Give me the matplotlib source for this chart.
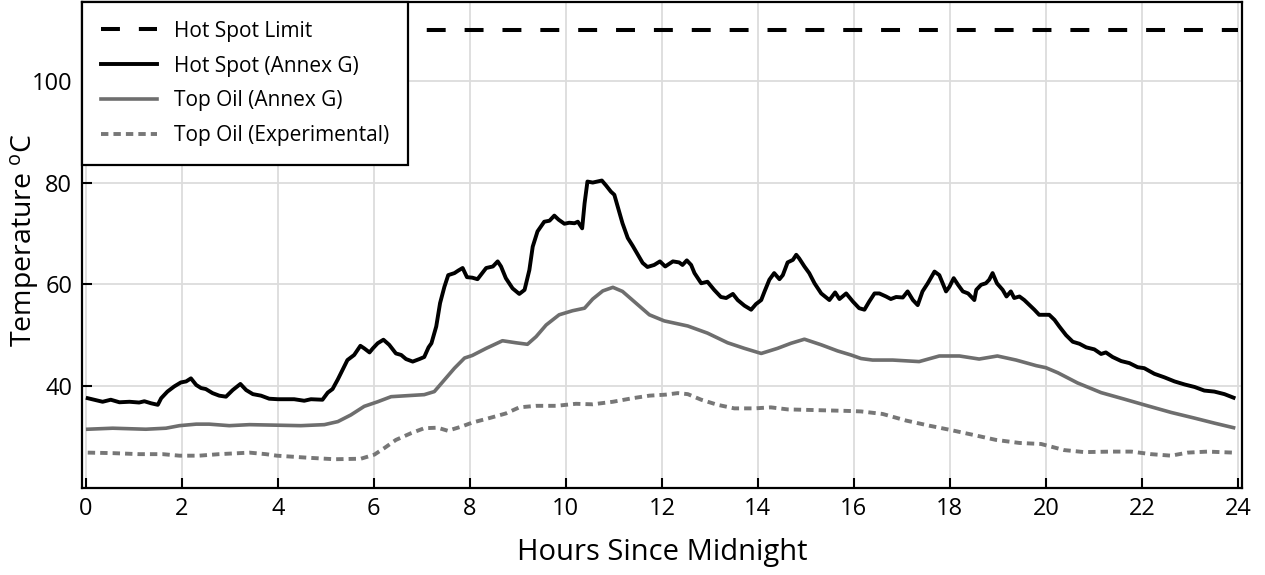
import matplotlib
matplotlib.use("Agg")
import matplotlib.pyplot as plt

plt.rcParams['font.family'] = ['Open Sans', 'DejaVu Sans']
plt.rcParams['mathtext.default'] = 'regular'

# Transformer temperatures over one day (hours since midnight, deg C)
hot_spot_limit_hours = [0.0, 24.0]
hot_spot_limit_temp = [110, 110]

hot_spot_hours = [
    0.04, 0.35, 0.52, 0.70, 0.91, 1.11, 1.22, 1.36, 1.50, 1.57, 1.70, 1.84,
    1.98, 2.09, 2.19, 2.30, 2.40, 2.50, 2.64, 2.78, 2.92, 3.06, 3.22, 3.34,
    3.48, 3.65, 3.82, 4.00, 4.14, 4.34, 4.55, 4.69, 4.93, 5.04, 5.14, 5.25,
    5.35, 5.45, 5.59, 5.72, 5.80, 5.91, 5.98, 6.08, 6.20, 6.32, 6.46, 6.57,
    6.67, 6.81, 6.95, 7.05, 7.14, 7.20, 7.30, 7.38, 7.47, 7.55, 7.68, 7.76,
    7.85, 7.94, 8.05, 8.16, 8.34, 8.48, 8.58, 8.65, 8.75, 8.89, 9.03, 9.14,
    9.24, 9.31, 9.41, 9.55, 9.66, 9.76, 9.85, 9.97, 10.07, 10.18, 10.25,
    10.34, 10.39, 10.45, 10.56, 10.66, 10.75, 10.84, 10.94, 11.01, 11.08,
    11.18, 11.29, 11.39, 11.50, 11.60, 11.70, 11.84, 11.96, 12.07, 12.23,
    12.36, 12.43, 12.52, 12.61, 12.68, 12.82, 12.95, 13.09, 13.23, 13.34,
    13.48, 13.58, 13.72, 13.86, 13.96, 14.07, 14.14, 14.24, 14.34, 14.45,
    14.52, 14.62, 14.73, 14.80, 14.86, 14.97, 15.07, 15.18, 15.32, 15.49,
    15.61, 15.70, 15.84, 15.98, 16.11, 16.22, 16.32, 16.43, 16.53, 16.67,
    16.77, 16.88, 17.02, 17.12, 17.23, 17.33, 17.43, 17.54, 17.68, 17.78,
    17.92, 17.99, 18.08, 18.17, 18.27, 18.38, 18.51, 18.55, 18.65, 18.75,
    18.82, 18.89, 18.98, 19.10, 19.18, 19.27, 19.34, 19.45, 19.55, 19.66,
    19.76, 19.86, 19.97, 20.07, 20.18, 20.28, 20.42, 20.56, 20.70, 20.84,
    21.01, 21.15, 21.25, 21.39, 21.57, 21.74, 21.91, 22.05, 22.26, 22.47,
    22.68, 22.89, 23.10, 23.30, 23.51, 23.72, 23.91,
]
hot_spot_temp = [
    37.6, 36.9, 37.3, 36.8, 36.9, 36.75, 37.0, 36.6, 36.3, 37.6, 38.9, 39.9,
    40.7, 40.9, 41.5, 40.2, 39.6, 39.4, 38.6, 38.1, 37.9, 39.2, 40.4, 39.2,
    38.4, 38.1, 37.5, 37.4, 37.4, 37.4, 37.1, 37.4, 37.3, 38.7, 39.4, 41.3,
    43.2, 45.1, 46.1, 47.9, 47.4, 46.6, 47.4, 48.4, 49.1, 48.1, 46.4, 46.1,
    45.3, 44.8, 45.3, 45.7, 47.6, 48.4, 51.7, 56.3, 59.5, 61.8, 62.2, 62.7,
    63.2, 61.4, 61.3, 61.0, 63.2, 63.5, 64.5, 63.5, 61.2, 59.2, 58.1, 58.9,
    62.8, 67.4, 70.4, 72.3, 72.5, 73.5, 72.7, 71.9, 72.1, 72.0, 72.3,
    71.0, 75.9, 80.2, 80.0, 80.2, 80.4, 79.4, 78.2, 77.6, 75.3,
    72.0, 69.1, 67.6, 65.8, 64.2, 63.4, 63.8, 64.5, 63.5, 64.5,
    64.3, 63.8, 64.7, 63.8, 62.2, 60.2, 60.5, 58.9, 57.5, 57.3,
    58.1, 56.9, 55.8, 55.0, 56.1, 56.9, 58.6, 60.9, 62.2, 61.0,
    61.8, 64.3, 64.8, 65.8, 65.1, 63.5, 62.2, 60.2, 58.2, 56.9,
    58.4, 57.1, 58.2, 56.6, 55.3, 55.0, 56.6, 58.2, 58.2, 57.6,
    57.1, 57.5, 57.4, 58.6, 56.9, 55.9, 58.6, 60.2, 62.5, 61.8,
    58.6, 59.5, 61.2, 59.9, 58.6, 58.2, 56.9, 58.9, 59.9, 60.2,
    60.9, 62.2, 60.2, 58.9, 57.6, 58.6, 57.3, 57.6, 56.9, 55.9,
    55.0, 54.0, 54.0, 54.0, 53.0, 51.7, 50.0, 48.7, 48.3, 47.6,
    47.2, 46.3, 46.6, 45.7, 44.9, 44.5, 43.7, 43.5, 42.4, 41.7,
    40.9, 40.3, 39.8, 39.1, 38.9, 38.4, 37.7,
]

top_oil_hours = [
    0.04, 0.56, 1.25, 1.67, 1.95, 2.30, 2.57, 2.99, 3.41, 3.95, 4.48, 4.97,
    5.25, 5.52, 5.80, 6.08, 6.36, 6.70, 7.05, 7.26, 7.47, 7.68, 7.89, 8.05,
    8.34, 8.68, 8.96, 9.20, 9.38, 9.59, 9.86, 10.14, 10.39, 10.56, 10.77,
    10.98, 11.18, 11.46, 11.74, 12.05, 12.54, 12.95, 13.37, 13.72, 14.07,
    14.41, 14.69, 14.97, 15.32, 15.66, 15.94, 16.15, 16.39, 16.81, 17.36,
    17.78, 18.20, 18.61, 18.99, 19.38, 19.80, 20.00, 20.25, 20.66, 21.15,
    21.64, 22.12, 22.61, 23.09, 23.51, 23.91,
]
top_oil_temp = [
    31.5, 31.7, 31.5, 31.7, 32.2, 32.5, 32.5, 32.2, 32.4, 32.3, 32.2, 32.4,
    33.0, 34.3, 36.0, 36.9, 37.9, 38.1, 38.3, 38.9, 41.2, 43.5, 45.5, 46.0,
    47.4, 48.9, 48.5, 48.2, 49.7, 52.0, 54.0, 54.8, 55.3, 57.1, 58.7,
    59.4, 58.6, 56.3, 54.0, 52.8, 51.8, 50.4, 48.5, 47.4, 46.4,
    47.4, 48.4, 49.2, 48.1, 46.9, 46.1, 45.4, 45.1, 45.1, 44.8,
    45.9, 45.9, 45.3, 45.9, 45.1, 44.0, 43.6, 42.6, 40.6, 38.7,
    37.4, 36.1, 34.8, 33.7, 32.7, 31.8,
]

experimental_hours = [
    0.04, 0.56, 1.11, 1.60, 1.95, 2.36, 2.78, 3.41, 3.75, 3.98, 4.62, 5.18,
    5.73, 6.01, 6.22, 6.46, 6.77, 7.05, 7.33, 7.54, 7.82, 8.05, 8.41, 8.75,
    9.03, 9.38, 9.80, 10.21, 10.56, 10.98, 11.39, 11.74, 12.08, 12.33, 12.54,
    12.82, 13.16, 13.51, 13.93, 14.27, 14.62, 15.04, 15.45, 15.87, 16.15,
    16.60, 17.09, 17.57, 17.99, 18.48, 18.96, 19.45, 19.90, 20.38, 20.80,
    21.36, 21.78, 22.19, 22.61, 22.95, 23.37, 23.91,
]
experimental_temp = [
    26.9, 26.8, 26.6, 26.6, 26.3, 26.3, 26.6, 26.9, 26.6, 26.3, 25.9, 25.6,
    25.7, 26.5, 27.8, 29.4, 30.7, 31.7, 31.8, 31.2, 32.0, 32.8, 33.7, 34.6,
    35.8, 36.1, 36.1, 36.5, 36.4, 36.9, 37.6, 38.1, 38.3, 38.6, 38.4,
    37.3, 36.3, 35.6, 35.6, 35.8, 35.4, 35.3, 35.2, 35.1, 35.0,
    34.5, 33.2, 32.2, 31.4, 30.4, 29.4, 28.8, 28.6, 27.4, 27.0,
    27.1, 27.1, 26.6, 26.3, 26.9, 27.1, 26.9,
]

hour_ticks = list(range(0, 25, 2))
temp_ticks = [40, 60, 80, 100]


def main():
    fig = plt.figure(figsize=(12.65, 5.75), dpi=100)
    ax = fig.add_axes([0.0648, 0.1518, 0.9168, 0.8447])

    ax.plot(hot_spot_limit_hours, hot_spot_limit_temp, color='black',
            linewidth=2.9, dashes=(4.7, 4.7), label='Hot Spot Limit')
    ax.plot(hot_spot_hours, hot_spot_temp, color='black',
            linewidth=2.8, label='Hot Spot (Annex G)')
    ax.plot(top_oil_hours, top_oil_temp, color='#6e6e6e',
            linewidth=2.6, label='Top Oil (Annex G)')
    ax.plot(experimental_hours, experimental_temp, color='#777777',
            linewidth=2.8, dashes=(1.9, 1.3), label='Top Oil (Experimental)')

    ax.set_xlim(-0.08, 24.08)
    ax.set_ylim(20, 115.5)
    ax.set_xticks(hour_ticks)
    ax.set_yticks(temp_ticks)
    ax.grid(True, color='#dcdcdc', linewidth=1.3)
    ax.set_axisbelow(True)

    ax.tick_params(direction='in', length=7, width=1.5, labelsize=17,
                   pad=7, colors='black')
    for spine in ax.spines.values():
        spine.set_linewidth(1.6)
        spine.set_color('black')

    ax.set_xlabel('Hours Since Midnight', fontsize=21, labelpad=12)
    ax.set_ylabel('Temperature $^{o}$C', fontsize=20.5)
    ax.yaxis.set_label_coords(-0.035, 0.51)

    leg = ax.legend(loc='upper left', bbox_to_anchor=(0, 1), borderaxespad=0,
                    fontsize=15, handlelength=2.7, labelspacing=0.66,
                    borderpad=0.9, fancybox=False, framealpha=1,
                    edgecolor='black')
    leg.get_frame().set_linewidth(1.6)

    fig.savefig('out.png', dpi=100)


if __name__ == "__main__":
    main()
